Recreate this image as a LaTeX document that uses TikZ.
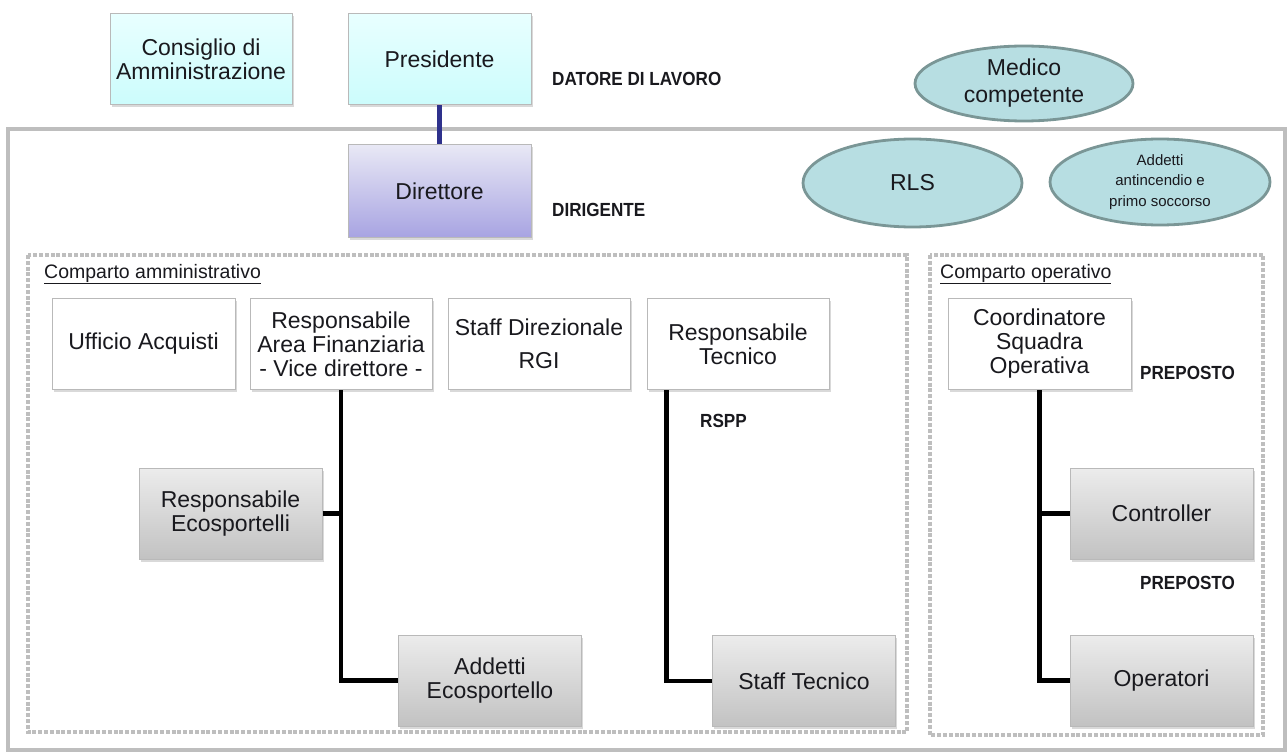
\documentclass[tikz,border=0pt]{standalone}
\usepackage{fontspec}
\setmainfont{Liberation Sans}
\newfontfamily\lblfont[FakeStretch=0.9]{Liberation Sans}
\usetikzlibrary{shapes.geometric,shadows,calc}
\definecolor{txt}{RGB}{25,25,30}
\definecolor{framegray}{RGB}{190,190,190}
\definecolor{dashgray}{RGB}{190,190,190}
\definecolor{boxborder}{RGB}{185,185,185}
\definecolor{cyantop}{RGB}{232,255,255}
\definecolor{cyanbot}{RGB}{204,252,252}
\definecolor{lavtop}{RGB}{232,232,245}
\definecolor{lavbot}{RGB}{168,164,226}
\definecolor{graytop}{RGB}{236,236,236}
\definecolor{graybot}{RGB}{194,194,194}
\definecolor{ellfill}{RGB}{183,222,226}
\definecolor{elldraw}{RGB}{122,150,150}
\definecolor{navy}{RGB}{46,49,140}
\tikzset{
  basebox/.style={rectangle, minimum width=183pt, minimum height=91pt, inner sep=0pt,
    align=center, text=txt, font=\fontsize{23}{24}\selectfont,
    drop shadow={opacity=0.3, shadow xshift=1.5pt, shadow yshift=-2.5pt}},
  whitebox/.style={basebox, fill=white, draw=boxborder, line width=1pt},
  cyanbox/.style={basebox, top color=cyantop, bottom color=cyanbot, draw=boxborder, line width=1pt},
  lavbox/.style={basebox, top color=lavtop, bottom color=lavbot, draw=boxborder, line width=1pt},
  graybox/.style={basebox, top color=graytop, bottom color=graybot, draw=boxborder, line width=1pt},
  oval/.style={ellipse, fill=ellfill, draw=elldraw, line width=2.8pt, inner sep=0pt,
    align=center, text=txt, font=\fontsize{23}{24}\selectfont},
  rolelabel/.style={anchor=west, inner sep=0pt, text=txt, font=\lblfont\bfseries\fontsize{19}{20}\selectfont},
  sectlabel/.style={anchor=west, inner sep=0pt, text=txt, font=\fontsize{19.5}{21}\selectfont},
  dashframe/.style={draw=dashgray, line width=3.5pt, dash pattern=on 4pt off 1.8pt},
  outerframe/.style={draw=framegray, line width=4pt},
  conn/.style={draw=black, line width=4.6pt},
  navyconn/.style={draw=navy, line width=4.2pt}
}
\begin{document}
\begin{tikzpicture}[x=1pt,y=-1pt]
\useasboundingbox (0,0) rectangle (1287,754);
% frames
\draw[outerframe] (8,129) rectangle (1285,750);
\draw[dashframe] (28,255) rectangle (907,732);
\draw[dashframe] (930,255) rectangle (1263,735);
% top level
\node[cyanbox, minimum width=182pt] (cons) at (201,59.5) {Consiglio di\\Amministrazione};
\node[cyanbox] (pres) at (439.5,59.5) {Presidente};
\node[lavbox, minimum height=92pt] (dir) at (439.5,191) {Direttore};
\node[rolelabel] (datore) at (552,79) {DATORE DI LAVORO};
\node[rolelabel] (dirig) at (552,210) {DIRIGENTE};
% ellipses
\node[oval, minimum width=218pt, minimum height=75pt] (medico) at (1024,83.5) {Medico\\[3pt]competente};
\node[oval, minimum width=219pt, minimum height=88pt] (rls) at (912.5,183) {RLS};
\node[oval, minimum width=220pt, minimum height=86pt, font=\fontsize{15}{20.5}\selectfont] (addetti) at (1160,182) {Addetti\\antincendio e\\primo soccorso};
% section labels
\node[sectlabel] (compamm) at (44,274) {\underline{Comparto amministrativo}};
\node[sectlabel] (compop) at (940,274) {\underline{Comparto operativo}};
% row boxes
\node[whitebox] (uff) at (143.5,344) {Ufficio Acquisti};
\node[whitebox, minimum width=182pt] (raf) at (341,344) {Responsabile\\Area Finanziaria\\- Vice direttore -};
\node[whitebox, minimum width=182pt] (sdir) at (539,344) {Staff Direzionale\\[9pt]RGI};
\node[whitebox, minimum width=182pt] (rtec) at (738,344) {Responsabile\\Tecnico};
\node[whitebox] (coord) at (1039.5,344) {Coordinatore\\Squadra\\Operativa};
% gray boxes
\node[graybox] (reco) at (230.5,513.5) {Responsabile\\Ecosportelli};
\node[graybox] (aeco) at (490,680.5) {Addetti\\Ecosportello};
\node[graybox] (stec) at (804,681) {Staff Tecnico};
\node[graybox] (ctrl) at (1161.5,513.5) {Controller};
\node[graybox] (oper) at (1161.5,680.5) {Operatori};
% labels
\node[rolelabel] (rspp) at (700,421) {RSPP};
\node[rolelabel] (prep1) at (1140,373) {PREPOSTO};
\node[rolelabel] (prep2) at (1140,583) {PREPOSTO};
% connectors
\draw[navyconn] (pres.south) -- (dir.north);
\draw[conn] (raf.south) |- (aeco.west);
\draw[conn] (reco.east) -- (reco.east -| raf.south);
\coordinate (rtecfoot) at ($(rtec.south west)+(20,0)$);
\draw[conn] (rtecfoot) |- (stec.west);
\draw[conn] (coord.south) |- (oper.west);
\draw[conn] (ctrl.west) -- (ctrl.west -| coord.south);
\end{tikzpicture}
\end{document}
